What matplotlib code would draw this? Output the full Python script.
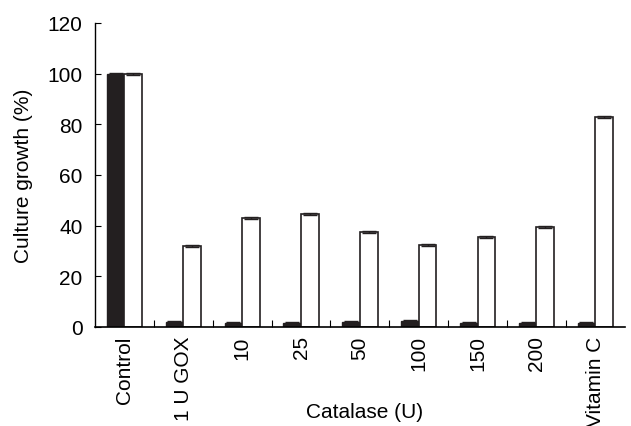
'''Culture growth under glucose oxidase with catalase / vitamin C.'''

import numpy as np
import matplotlib
matplotlib.use('Agg')
import matplotlib.pyplot as plt

plt.rcParams['font.family'] = ['Liberation Sans', 'DejaVu Sans']

categories = ['Control', '1 U GOX', '10', '25', '50', '100', '150', '200',
              'Vitamin C']
dark_values = [100, 2, 1.5, 1.5, 2, 2.5, 1.5, 1.5, 1.5]
light_values = [100, 32, 43, 44.5, 37.5, 32.5, 35.5, 39.5, 83]
light_err = [0.4, 0.4, 0.4, 0.4, 0.4, 0.4, 0.4, 0.4, 0.4]
dark_err = [0.4, 0.4, 0.4, 0.4, 0.4, 0.4, 0.4, 0.4, 0.4]


def main():
    fig = plt.figure(figsize=(6.31, 4.27), dpi=100)
    ax = fig.add_axes([0.1506, 0.2319, 0.8394, 0.7119])

    x = np.arange(len(categories))
    w = 0.3
    ax.bar(x - w / 2, dark_values, w, color='#231f20', edgecolor='#231f20',
           linewidth=1, yerr=dark_err,
           error_kw=dict(ecolor='#231f20', capsize=5, elinewidth=1))
    ax.bar(x + w / 2, light_values, w, color='white', edgecolor='#231f20',
           linewidth=1.2, yerr=light_err,
           error_kw=dict(ecolor='#231f20', capsize=5, elinewidth=1))

    ax.set_xlim(-0.5, len(categories) - 0.5)
    ax.set_ylim(0, 120)
    ax.set_yticks(range(0, 121, 20))
    ax.set_xticks(x)
    ax.set_xticklabels(categories, rotation=90, fontsize=15)
    ax.tick_params(axis='x', length=0, pad=6)
    ax.set_xticks(x[:-1] + 0.5, minor=True)
    ax.tick_params(axis='x', which='minor', direction='in', length=5,
                   width=0.8)
    ax.tick_params(axis='y', direction='in', length=4, width=0.8,
                   labelsize=15, pad=9)

    ax.spines['top'].set_visible(False)
    ax.spines['right'].set_visible(False)
    ax.spines['left'].set_linewidth(1)
    ax.spines['bottom'].set_linewidth(1.2)

    fig.text(0.038, 0.588, 'Culture growth (%)', fontsize=15, rotation=90,
             ha='center', va='center')
    fig.text(0.578, 0.035, 'Catalase (U)', fontsize=15, ha='center',
             va='center')

    fig.savefig('out.png', dpi=100)


if __name__ == "__main__":
    main()
